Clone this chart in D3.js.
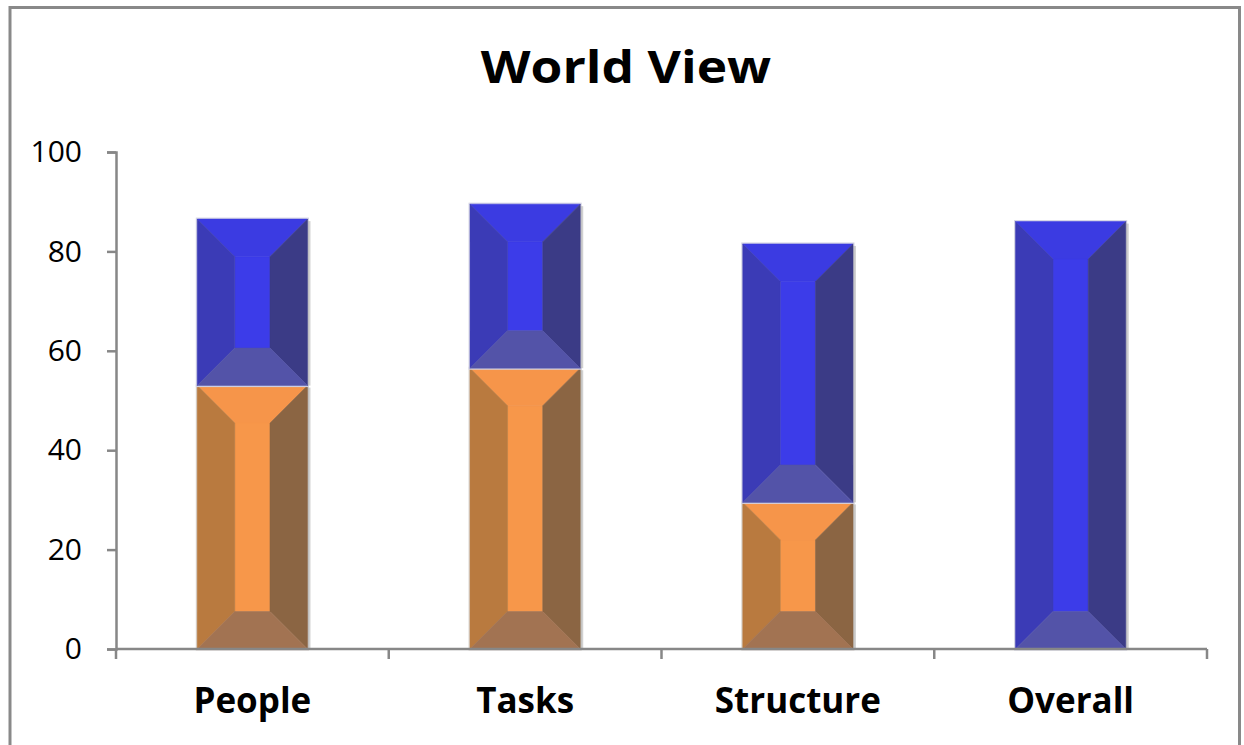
<!DOCTYPE html>
<html>
<head>
<meta charset="utf-8">
<script src="https://cdn.jsdelivr.net/npm/d3@7"></script>
<style>
  html, body { margin: 0; padding: 0; background: #ffffff; }
  svg { display: block; }
</style>
</head>
<body>
<svg id="chart" width="1244" height="745"></svg>
<script>
// Categories along the x axis
const categories = ["People", "Tasks", "Structure", "Overall"];
// Lower (orange) segment of each column
const orangeValues = [53, 56.5, 29.5, 0];
// Upper (blue) segment stacked on top of the orange one
const blueValues = [33.5, 33, 52, 86];
// Value axis ticks
const yTicks = [0, 20, 40, 60, 80, 100];
const titleText = "World View";

const svg = d3.select("#chart");
const W = 1244, H = 745;

// Outer frame of the chart area
svg.append("rect")
  .attr("x", 10).attr("y", 7.5)
  .attr("width", 1229.5).attr("height", 760)
  .attr("fill", "#ffffff")
  .attr("stroke", "#898989").attr("stroke-width", 3);

const plot = { left: 116, right: 1207, top: 152, bottom: 649 };

const x = d3.scaleBand().domain(categories).range([plot.left, plot.right]).padding(0);
const y = d3.scaleLinear().domain([0, 100]).range([plot.bottom, plot.top]);

// Stack the two series
const rows = categories.map((c, i) => ({ cat: c, orange: orangeValues[i], blue: blueValues[i] }));
const stack = d3.stack().keys(["orange", "blue"]);
const series = stack(rows);

// Bevelled-face palettes per series
const palettes = {
  orange: { top: "#f6954a", center: "#f7974a", left: "#b97a3f", right: "#8b6543", bottom: "#a27352", edge: "#d9d4cf" },
  blue:   { top: "#3b3be2", center: "#3c3ce9", left: "#3b3bb6", right: "#3b3b86", bottom: "#5353a8", edge: "#d4d4e4" }
};

const barFrac = 0.404;
const bevelSize = 37.5;

const barsG = svg.append("g");

series.forEach(s => {
  const pal = palettes[s.key];
  s.forEach((d, i) => {
    const v = d[1] - d[0];
    if (v <= 0) return;
    const cat = categories[i];
    const bw = x.bandwidth() * barFrac;
    const x0 = x(cat) + (x.bandwidth() - bw) / 2;
    const x1 = x0 + bw;
    const yTop = y(d[1]);
    const yBot = y(d[0]);
    const b = Math.min(bevelSize, bw / 2, (yBot - yTop) / 2);
    const g = barsG.append("g");

    // soft light rim around the segment
    g.append("rect")
      .attr("x", x0 - 1.5).attr("y", yTop - 1.5)
      .attr("width", bw + 3).attr("height", yBot - yTop + 3)
      .attr("fill", pal.edge);
    // faint shadow on the right side
    g.append("rect")
      .attr("x", x1).attr("y", yTop + 2)
      .attr("width", 3).attr("height", yBot - yTop - 2)
      .attr("fill", "#b0b0b0").attr("opacity", 0.6);

    const faces = [
      { c: pal.center, p: [[x0 + b, yTop + b], [x1 - b, yTop + b], [x1 - b, yBot - b], [x0 + b, yBot - b]] },
      { c: pal.top,    p: [[x0, yTop], [x1, yTop], [x1 - b, yTop + b], [x0 + b, yTop + b]] },
      { c: pal.left,   p: [[x0, yTop], [x0 + b, yTop + b], [x0 + b, yBot - b], [x0, yBot]] },
      { c: pal.right,  p: [[x1, yTop], [x1, yBot], [x1 - b, yBot - b], [x1 - b, yTop + b]] },
      { c: pal.bottom, p: [[x0, yBot], [x0 + b, yBot - b], [x1 - b, yBot - b], [x1, yBot]] }
    ];
    faces.forEach(f => {
      g.append("polygon")
        .attr("points", f.p.map(q => q.join(",")).join(" "))
        .attr("fill", f.c)
        .attr("stroke", f.c).attr("stroke-width", 0.5);
    });
  });
});

const axisColor = "#878787";

// Value axis
const yAxis = d3.axisLeft(y).tickValues(yTicks).tickSize(9).tickPadding(25).tickFormat(d3.format("d"));
const yg = svg.append("g").attr("transform", `translate(${plot.left},0)`).call(yAxis);
yg.select(".domain").attr("stroke", axisColor).attr("stroke-width", 2.5);
yg.selectAll(".tick line").attr("stroke", axisColor).attr("stroke-width", 2.5);
yg.selectAll(".tick text")
  .attr("fill", "#000")
  .style("font-family", "'Open Sans', sans-serif")
  .style("font-size", "30px");

// Category axis: baseline, boundary ticks and labels
const xg = svg.append("g");
const bounds = categories.map(c => x(c)).concat([x.range()[1]]);
xg.append("line")
  .attr("x1", plot.left).attr("x2", x.range()[1])
  .attr("y1", y(0)).attr("y2", y(0))
  .attr("stroke", axisColor).attr("stroke-width", 2.5);
xg.selectAll("line.bound").data(bounds).enter().append("line")
  .attr("class", "bound")
  .attr("x1", d => d).attr("x2", d => d)
  .attr("y1", y(0)).attr("y2", y(0) + 10)
  .attr("stroke", axisColor).attr("stroke-width", 2.5);
xg.selectAll("text.cat").data(categories).enter().append("text")
  .attr("class", "cat")
  .attr("x", d => x(d) + x.bandwidth() / 2)
  .attr("y", 713)
  .attr("text-anchor", "middle")
  .style("font-family", "'Open Sans', sans-serif")
  .style("font-weight", "bold")
  .style("font-size", "35px")
  .attr("fill", "#000")
  .text(d => d);

// Title
const title = svg.append("text")
  .attr("x", 626).attr("y", 83)
  .attr("text-anchor", "middle")
  .style("font-family", "'Open Sans', sans-serif")
  .style("font-weight", "bold")
  .style("font-size", "44px")
  .attr("fill", "#000")
  .text(titleText);
const tw = title.node().getComputedTextLength();
title.attr("textLength", tw * 1.17).attr("lengthAdjust", "spacingAndGlyphs");
</script>
</body>
</html>
